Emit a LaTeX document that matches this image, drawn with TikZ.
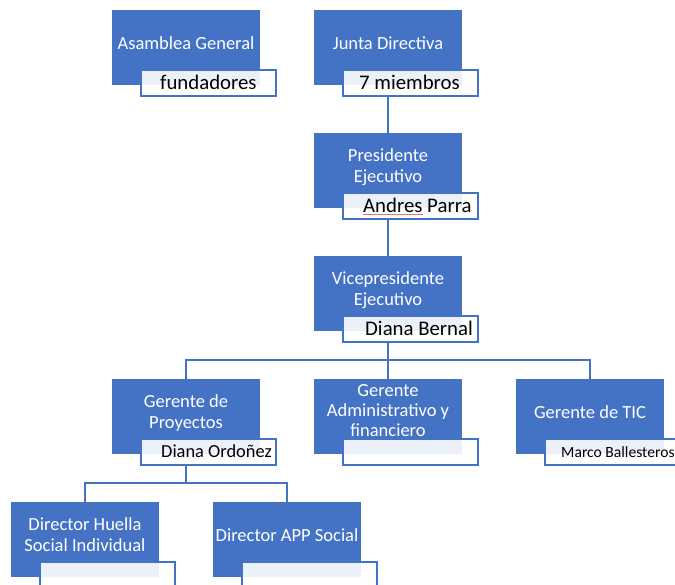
\documentclass[tikz,border=0pt]{standalone}
\usepackage{fontspec}
\setmainfont{Carlito}
\usetikzlibrary{calc}
\definecolor{sblue}{HTML}{4472C4}
\definecolor{squig}{HTML}{E57373}
\begin{document}
\begin{tikzpicture}[x=1pt,y=-1pt,
  bluebox/.style={fill=sblue, draw=none, minimum width=148pt, minimum height=75pt, inner sep=0pt, outer sep=0pt, anchor=north west},
  namebox/.style={draw=sblue, line width=2pt, fill=white, fill opacity=0.9, text opacity=1, minimum width=135pt, minimum height=26pt, inner sep=0pt, outer sep=0pt, anchor=north west},
  btext/.style={text=white, font=\fontsize{18.5}{21}\selectfont, align=center, inner sep=0pt},
  ntext/.style={text=black, font=\fontsize{20.8}{24}\selectfont, inner sep=0pt, anchor=base west},
  stext/.style={text=black, font=\fontsize{18.4}{22}\selectfont, inner sep=0pt, anchor=base west},
  xtext/.style={text=black, font=\fontsize{15.6}{18}\selectfont, inner sep=0pt, anchor=base west},
  conn/.style={draw=sblue, line width=2pt}]
\useasboundingbox (0,0) rectangle (675,584);

% blue boxes
\node[bluebox] (asam) at (112,10) {};
\node[bluebox] (junta) at (314,10) {};
\node[bluebox] (pres) at (314,133) {};
\node[bluebox] (vice) at (314,256) {};
\node[bluebox] (gproy) at (112,379) {};
\node[bluebox] (gadm) at (314,379) {};
\node[bluebox] (gtic) at (516,379) {};
\node[bluebox] (dhue) at (11,502) {};
\node[bluebox] (dapp) at (213,502) {};

% titles
\node[btext] (asamT) at ($(asam.north)+(0,35)$) {\strut Asamblea General};
\node[btext] (juntaT) at ($(junta.north)+(0,35)$) {\strut Junta Directiva};
\node[btext] (presT) at ($(pres.north)+(0,35)$) {\strut Presidente\\\strut Ejecutivo};
\node[btext] (viceT) at ($(vice.north)+(0,35)$) {\strut Vicepresidente\\\strut Ejecutivo};
\node[btext] (gproyT) at ($(gproy.north)+(0,34.5)$) {\strut Gerente de\\\strut Proyectos};
\node[btext, font=\fontsize{18.5}{19.7}\selectfont] (gadmT) at ($(gadm.north)+(0,33.5)$) {\strut Gerente\\\strut Administrativo y\\\strut financiero};
\node[btext] (gticT) at ($(gtic.north)+(0,35)$) {\strut Gerente de TIC};
\node[btext] (dhueT) at ($(dhue.north)+(0,35)$) {\strut Director Huella\\\strut Social Individual};
\node[btext] (dappT) at ($(dapp.north)+(0,35)$) {\strut Director APP Social};

% name boxes
\node[namebox] (asamL) at ($(asam.north west)+(29,60)$) {};
\node[namebox] (juntaL) at ($(junta.north west)+(29,60)$) {};
\node[namebox] (presL) at ($(pres.north west)+(29,60)$) {};
\node[namebox] (viceL) at ($(vice.north west)+(29,60)$) {};
\node[namebox] (gproyL) at ($(gproy.north west)+(29,60)$) {};
\node[namebox] (gadmL) at ($(gadm.north west)+(29,60)$) {};
\node[namebox] (gticL) at ($(gtic.north west)+(29,60)$) {};
\node[namebox] (dhueL) at ($(dhue.north west)+(29,60)$) {};
\node[namebox] (dappL) at ($(dapp.north west)+(29,60)$) {};

% names
\node[ntext] (asamN) at (160,89) {fundadores};
\node[ntext] (juntaN) at (359,89) {7 miembros};
\node[ntext] (presN) at (363,212) {Andres Parra};
\draw[squig, line width=0.6pt] (363,214.5) -- (423,214.5);
\node[ntext] (viceN) at (365,335) {Diana Bernal};
\node[stext] (gproyN) at (161,457) {Diana Ordoñez};
\node[xtext] (gticN) at (561,457) {Marco Ballesteros};

% connectors
\coordinate (bar) at (0,360);
\coordinate (bar2) at (0,483);
\draw[conn] (juntaL.south -| junta.south) -- (pres.north);
\draw[conn] (presL.south -| pres.south) -- (vice.north);
\draw[conn] (viceL.south -| vice.south) -- (vice.south |- bar);
\draw[conn] (gproy.north) -- (gproy.north |- bar) -- (gtic.north |- bar) -- (gtic.north);
\draw[conn] (gadm.north |- bar) -- (gadm.north);
\draw[conn] (gproyL.south -| gproy.south) -- (gproy.south |- bar2);
\draw[conn] (dhue.north) -- (dhue.north |- bar2) -- (dapp.north |- bar2) -- (dapp.north);
\end{tikzpicture}
\end{document}
